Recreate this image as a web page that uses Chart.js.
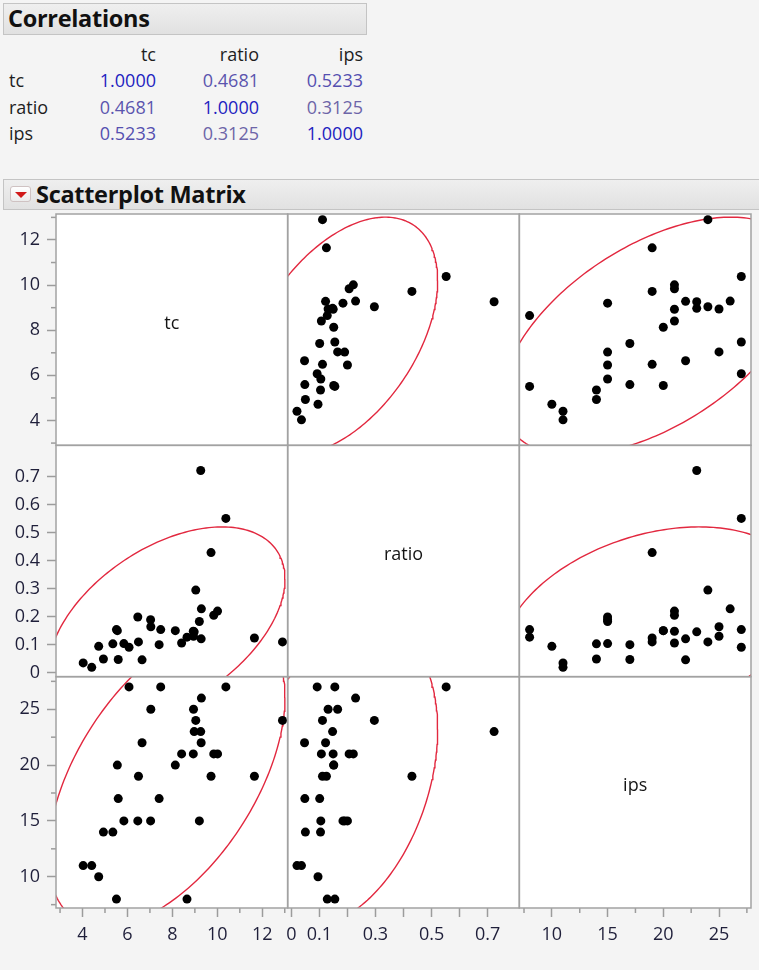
<!DOCTYPE html>
<html>
<head>
<meta charset="utf-8">
<title>Correlations and Scatterplot Matrix</title>
<script src="https://cdn.jsdelivr.net/npm/chart.js@4.4.1/dist/chart.umd.min.js"></script>
<style>
  html, body { margin: 0; padding: 0; }
  body {
    width: 759px; height: 970px; position: relative; overflow: hidden;
    background: #f4f4f4; color: #1a1a1a;
    font-family: "Open Sans", "Segoe UI", sans-serif;
  }
  .bar {
    position: absolute; box-sizing: border-box;
    border: 1px solid #c4c4c4;
    background: linear-gradient(#efefef, #e1e1e1);
  }
  .bar-title {
    position: absolute; font-weight: 700; font-size: 23.5px; line-height: 30px;
    color: #111111; white-space: nowrap; letter-spacing: -0.3px;
  }
  .menu-btn {
    position: absolute; left: 10px; top: 186px; width: 21px; height: 16px;
    box-sizing: border-box; border: 1px solid #cfc2c2; border-radius: 3px;
    background: linear-gradient(#ffffff, #ececec);
  }
  .menu-btn::after {
    content: ""; position: absolute; left: 4px; top: 5px;
    border-left: 6px solid transparent; border-right: 6px solid transparent;
    border-top: 6px solid #d11a1a;
  }
  .cell {
    position: absolute; font-size: 18px; line-height: 24px; height: 24px;
    white-space: nowrap;
  }
  #matrix { position: absolute; left: 0; top: 200px; }
</style>
</head>
<body>
<div class="bar" style="left:3px; top:3px; width:364px; height:32px;"></div>
<div class="bar-title" style="left:8px; top:3px;">Correlations</div>
<div id="table"></div>

<div class="bar" style="left:3px; top:179px; width:760px; height:31px;"></div>
<div class="menu-btn"></div>
<div class="bar-title" style="left:36px; top:179px;">Scatterplot Matrix</div>

<canvas id="matrix" width="759" height="770"></canvas>

<script>
// Variables in the matrix (row/column order)
const variables = ['tc', 'ratio', 'ips'];

// Observations
const tc = [6.07, 7.48, 10.38, 9.29, 7.04, 8.94, 9.04, 12.9, 8.97, 9.26, 6.65, 9.28, 8.41, 8.93, 9.84, 10.01, 5.55, 8.13,
            6.49, 9.72, 11.65, 5.59, 7.41, 5.84, 6.46, 7.03, 9.20, 4.93, 5.35, 4.03, 4.41, 4.72, 5.51, 8.65];
const ratio = [0.092, 0.155, 0.552, 0.229, 0.165, 0.131, 0.296, 0.111, 0.147, 0.723, 0.047, 0.122, 0.107, 0.149, 0.206,
               0.221, 0.151, 0.151, 0.111, 0.430, 0.125, 0.048, 0.101, 0.105, 0.200, 0.190, 0.184, 0.050, 0.104,
               0.036, 0.020, 0.095, 0.155, 0.128];
const ips = [27, 27, 27, 26, 25, 25, 24, 24, 23, 23, 22, 22, 21, 21, 21, 21, 20, 20, 19, 19, 19, 17, 17, 15, 15, 15,
             15, 14, 14, 11, 11, 10, 8, 8];

// Correlation table rows
const corrTc = [1.0000, 0.4681, 0.5233];
const corrRatio = [0.4681, 1.0000, 0.3125];
const corrIps = [0.5233, 0.3125, 1.0000];

// Tick values and labels
const tcTicks = [4, 6, 8, 10, 12];
const tcMinorTicks = [3, 5, 7, 9, 11, 13];
const ratioTicks = [0, 0.1, 0.2, 0.3, 0.4, 0.5, 0.6, 0.7];
const ratioXLabels = [0, 0.1, 0.3, 0.5, 0.7];
const ratioYLabels = [0, 0.1, 0.2, 0.3, 0.4, 0.5, 0.6, 0.7];
const ipsTicks = [10, 15, 20, 25];
const ipsMinorTicks = [7.5, 12.5, 17.5, 22.5, 27.5];

const columns = [tc, ratio, ips];
const corr = [corrTc, corrRatio, corrIps];

// ---- correlation table ----
(function buildTable() {
  const host = document.getElementById('table');
  const colRight = [156, 259, 363];
  const rowMid = [80, 107, 133];
  const add = (text, style) => {
    const d = document.createElement('div');
    d.className = 'cell';
    d.textContent = text;
    Object.assign(d.style, style);
    host.appendChild(d);
  };
  const valueColor = v => {
    // stronger correlation -> deeper blue
    const t = Math.max(0, Math.min(1, (v - 0.3) / 0.7));
    const r = Math.round(110 - 80 * t), g = Math.round(102 - 72 * t), b = Math.round(168 + 24 * t);
    return `rgb(${r},${g},${b})`;
  };
  variables.forEach((name, c) => {
    add(name, { right: (759 - colRight[c]) + 'px', top: (54 - 12) + 'px', color: '#1e1e1e' });
  });
  variables.forEach((name, r) => {
    add(name, { left: '9px', top: (rowMid[r] - 12) + 'px', color: '#1e1e1e' });
    corr[r].forEach((v, c) => {
      add(v.toFixed(4), { right: (759 - colRight[c]) + 'px', top: (rowMid[r] - 12) + 'px', color: valueColor(v) });
    });
  });
})();

// ---- statistics for density ellipses ----
const mean = a => a.reduce((s, v) => s + v, 0) / a.length;
const sd = a => { const m = mean(a); return Math.sqrt(a.reduce((s, v) => s + (v - m) * (v - m), 0) / (a.length - 1)); };

// 95% bivariate normal contour
function densityEllipse(xs, ys, r) {
  const mx = mean(xs), my = mean(ys), sx = sd(xs), sy = sd(ys);
  const k = Math.sqrt(5.991);
  const pts = [];
  const steps = 240;
  for (let i = 0; i <= steps; i++) {
    const t = (i / steps) * 2 * Math.PI;
    pts.push({
      x: mx + k * sx * Math.cos(t),
      y: my + k * sy * (r * Math.cos(t) + Math.sqrt(1 - r * r) * Math.sin(t))
    });
  }
  return pts;
}

// ---- scales ----
const xLimits = [[2.82, 13.13], [-0.0132, 0.813], [7.08, 27.87]];
const yLimits = [[2.9, 13.15], [-0.0132, 0.813], [7.2, 27.92]];
const majorTicks = [tcTicks, ratioTicks, ipsTicks];
const minorTicks = [tcMinorTicks, [], ipsMinorTicks];
const xLabelSets = [tcTicks, ratioXLabels, ipsTicks];
const yLabelSets = [tcTicks, ratioYLabels, ipsTicks];

const tickFont = { family: '"Open Sans", sans-serif', size: 18 };
const tickTextColor = '#1f1f3a';
const tickLineColor = '#9c9c9c';
const labelOf = (set, v) => set.some(s => Math.abs(s - v) < 1e-9) ? String(v) : '';

const scales = {};
for (let i = 0; i < 3; i++) {
  scales['x' + i] = {
    type: 'linear', axis: 'x', position: 'bottom',
    stack: 'columns', stackWeight: 1, weight: i + 1,
    min: xLimits[i][0], max: xLimits[i][1], bounds: 'data',
    afterBuildTicks: s => { s.ticks = majorTicks[i].map(v => ({ value: v })); },
    afterFit: s => { s.height = 62; s.paddingLeft = 0; s.paddingRight = 0; },
    grid: { drawOnChartArea: false, drawTicks: true, tickLength: 9, tickColor: tickLineColor, tickWidth: 1.5 },
    border: { display: false },
    ticks: {
      autoSkip: false, maxRotation: 0, minRotation: 0, padding: 7,
      color: tickTextColor, font: tickFont,
      callback: v => labelOf(xLabelSets[i], v)
    }
  };
  scales['y' + i] = {
    type: 'linear', axis: 'y', position: 'left',
    stack: 'rows', stackWeight: 1, weight: 3 - i,
    min: yLimits[i][0], max: yLimits[i][1], bounds: 'data',
    afterBuildTicks: s => { s.ticks = majorTicks[i].map(v => ({ value: v })); },
    afterFit: s => { s.width = 56; s.paddingTop = 0; s.paddingBottom = 0; },
    grid: { drawOnChartArea: false, drawTicks: true, tickLength: 9, tickColor: tickLineColor, tickWidth: 1.5 },
    border: { display: false },
    ticks: {
      autoSkip: false, padding: 7,
      color: tickTextColor, font: tickFont,
      callback: v => labelOf(yLabelSets[i], v)
    }
  };
}

// ---- datasets: one scatter + one ellipse per off-diagonal cell ----
const datasets = [];
for (let r = 0; r < 3; r++) {
  for (let c = 0; c < 3; c++) {
    if (r === c) continue;
    datasets.push({
      type: 'scatter',
      data: densityEllipse(columns[c], columns[r], corr[r][c]),
      xAxisID: 'x' + c, yAxisID: 'y' + r,
      showLine: true, pointRadius: 0, pointHoverRadius: 0,
      borderColor: '#e2283f', borderWidth: 1.4, fill: false,
      clip: 0, order: 2
    });
    datasets.push({
      type: 'scatter',
      data: columns[c].map((v, k) => ({ x: v, y: columns[r][k] })),
      xAxisID: 'x' + c, yAxisID: 'y' + r,
      pointRadius: 4.5, pointBackgroundColor: '#000000', pointBorderWidth: 0,
      clip: 0, order: 1
    });
  }
}

// Panel backgrounds, frames, minor ticks and diagonal names
const matrixDecor = {
  id: 'matrixDecor',
  beforeDraw(chart) {
    const ctx = chart.ctx;
    ctx.save();
    ctx.fillStyle = '#ffffff';
    const a = chart.chartArea;
    ctx.fillRect(a.left, a.top, a.right - a.left, a.bottom - a.top);
    ctx.restore();
  },
  afterDraw(chart) {
    const ctx = chart.ctx;
    const a = chart.chartArea;
    ctx.save();
    // minor ticks
    ctx.strokeStyle = tickLineColor;
    ctx.lineWidth = 1.5;
    for (let i = 0; i < 3; i++) {
      const xs = chart.scales['x' + i], ys = chart.scales['y' + i];
      minorTicks[i].forEach(v => {
        const px = xs.getPixelForValue(v);
        if (px >= xs.left - 0.5 && px <= xs.right + 0.5) {
          ctx.beginPath(); ctx.moveTo(px, a.bottom); ctx.lineTo(px, a.bottom + 5); ctx.stroke();
        }
        const py = ys.getPixelForValue(v);
        if (py >= ys.top - 0.5 && py <= ys.bottom + 0.5) {
          ctx.beginPath(); ctx.moveTo(a.left - 5, py); ctx.lineTo(a.left, py); ctx.stroke();
        }
      });
    }
    // panel frames
    ctx.strokeStyle = '#a2a2a2';
    ctx.lineWidth = 1.5;
    for (let r = 0; r < 3; r++) {
      for (let c = 0; c < 3; c++) {
        const xs = chart.scales['x' + c], ys = chart.scales['y' + r];
        ctx.strokeRect(xs.left, ys.top, xs.right - xs.left, ys.bottom - ys.top);
      }
    }
    // variable names on the diagonal
    ctx.fillStyle = '#151515';
    ctx.font = '18px "Open Sans", sans-serif';
    ctx.textAlign = 'center';
    ctx.textBaseline = 'middle';
    for (let i = 0; i < 3; i++) {
      const xs = chart.scales['x' + i], ys = chart.scales['y' + i];
      ctx.fillText(variables[i], (xs.left + xs.right) / 2, (ys.top + ys.bottom) / 2 - 6);
    }
    ctx.restore();
  }
};

new Chart(document.getElementById('matrix'), {
  type: 'scatter',
  data: { datasets },
  options: {
    responsive: false,
    animation: false,
    devicePixelRatio: 1,
    layout: { autoPadding: false, padding: { top: 14, right: 8, left: 0, bottom: 0 } },
    plugins: { legend: { display: false }, tooltip: { enabled: false } },
    events: [],
    scales
  },
  plugins: [matrixDecor]
});
</script>
</body>
</html>
